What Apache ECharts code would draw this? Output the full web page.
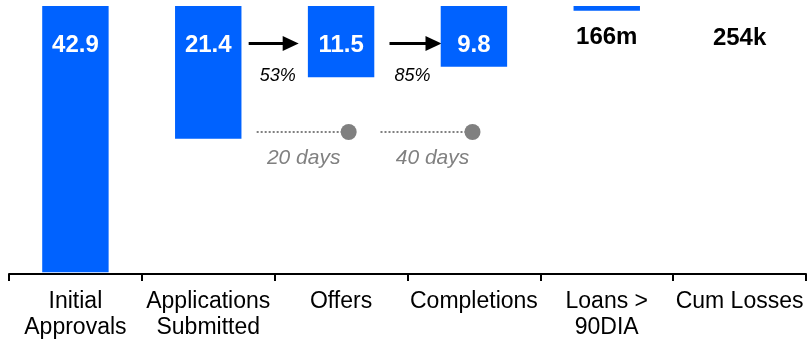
<!DOCTYPE html>
<html>
<head>
<meta charset="utf-8">
<script src="https://cdn.jsdelivr.net/npm/echarts@6/dist/echarts.min.js"></script>
<style>
html,body{margin:0;padding:0;background:#fff;}
#c{width:807px;height:344px;}
</style>
</head>
<body>
<div id="c"></div>
<script>
// ---- data ----
const categories = ['Initial\nApprovals', 'Applications\nSubmitted', 'Offers', 'Completions', 'Loans >\n90DIA', 'Cum Losses'];
const values = [42.9, 21.4, 11.5, 9.8, 0.75, 0];
const valueLabels = ['42.9', '21.4', '11.5', '9.8', '166m', '254k'];
const conversionFrom = [1, 2];          // category index where each conversion step starts
const conversionRates = ['53%', '85%'];
const durations = ['20 days', '40 days'];

// ---- layout / style ----
const FONT = '"Liberation Sans", Arial, sans-serif';
const BLUE = '#0062ff';
const GREY = '#808080';
const stepLayout = [
  {a0: -26, a1: 24, p: 3, d0: -18, d1: 74, t: 29},
  {a0: -18, a1: 34, p: 5, d0: -27, d1: 65, t: 25}
];
const darkLabelPos = {4: 31, 5: 32.5};

const chart = echarts.init(document.getElementById('c'), null, {renderer: 'canvas'});

const barData = values.map((v, i) => {
  const item = {value: v};
  if (darkLabelPos[i] !== undefined) {
    item.label = {color: '#000', position: ['50%', darkLabelPos[i]]};
  }
  return item;
});

const option = {
  animation: false,
  grid: {left: 9, right: 1, top: 6, bottom: 70},
  xAxis: {
    type: 'category',
    position: 'bottom',
    data: categories,
    axisLine: {show: true, onZero: false, lineStyle: {color: '#000', width: 2}},
    axisTick: {show: true, inside: false, alignWithLabel: false, interval: 0, length: 7,
               lineStyle: {color: '#000', width: 2}},
    axisLabel: {
      color: '#000', fontFamily: FONT, fontSize: 23, lineHeight: 26,
      margin: 15, interval: 0
    }
  },
  yAxis: {
    type: 'value', inverse: true, min: 0, max: 43.2, show: false,
    splitLine: {show: false}
  },
  series: [
    {
      type: 'bar',
      data: barData,
      barWidth: '50%',
      itemStyle: {color: BLUE},
      label: {
        show: true,
        position: ['50%', 39],
        align: 'center',
        verticalAlign: 'middle',
        formatter: p => valueLabels[p.dataIndex],
        color: '#fff',
        fontFamily: FONT,
        fontWeight: 'bold',
        fontSize: 24
      }
    },
    {
      type: 'custom',
      silent: true,
      data: conversionFrom.map(i => [i, 0]),
      renderItem: function (params, api) {
        const k = params.dataIndex;
        const idx = api.value(0);
        const c = api.coord([idx, 0]);
        const band = api.size([1, 0])[0];
        const b = c[0] + band / 2;
        const top = c[1];
        const L = stepLayout[k];
        const ay = top + 37.5;
        const x0 = b + L.a0, x1 = b + L.a1;
        const dy = top + 126;
        return {
          type: 'group',
          children: [
            {type: 'line', shape: {x1: x0, y1: ay, x2: x1 - 13, y2: ay},
             style: {stroke: '#000', lineWidth: 3}},
            {type: 'polygon', shape: {points: [[x1 - 16, ay - 7.5], [x1, ay], [x1 - 16, ay + 7.5]]},
             style: {fill: '#000'}},
            {type: 'text', x: b + L.p, y: top + 70,
             style: {text: conversionRates[k], fill: '#000', font: 'italic 18px ' + FONT,
                     align: 'center', verticalAlign: 'middle'}},
            {type: 'line', shape: {x1: b + L.d0, y1: dy, x2: b + L.d1 - 6, y2: dy},
             style: {stroke: GREY, lineWidth: 2, lineDash: [2, 2]}},
            {type: 'circle', shape: {cx: b + L.d1, cy: dy, r: 8},
             style: {fill: GREY}},
            {type: 'text', x: b + L.t, y: top + 152.5,
             style: {text: durations[k], fill: GREY, font: 'italic 21px ' + FONT,
                     align: 'center', verticalAlign: 'middle'}}
          ]
        };
      }
    }
  ]
};
chart.setOption(option);
</script>
</body>
</html>
